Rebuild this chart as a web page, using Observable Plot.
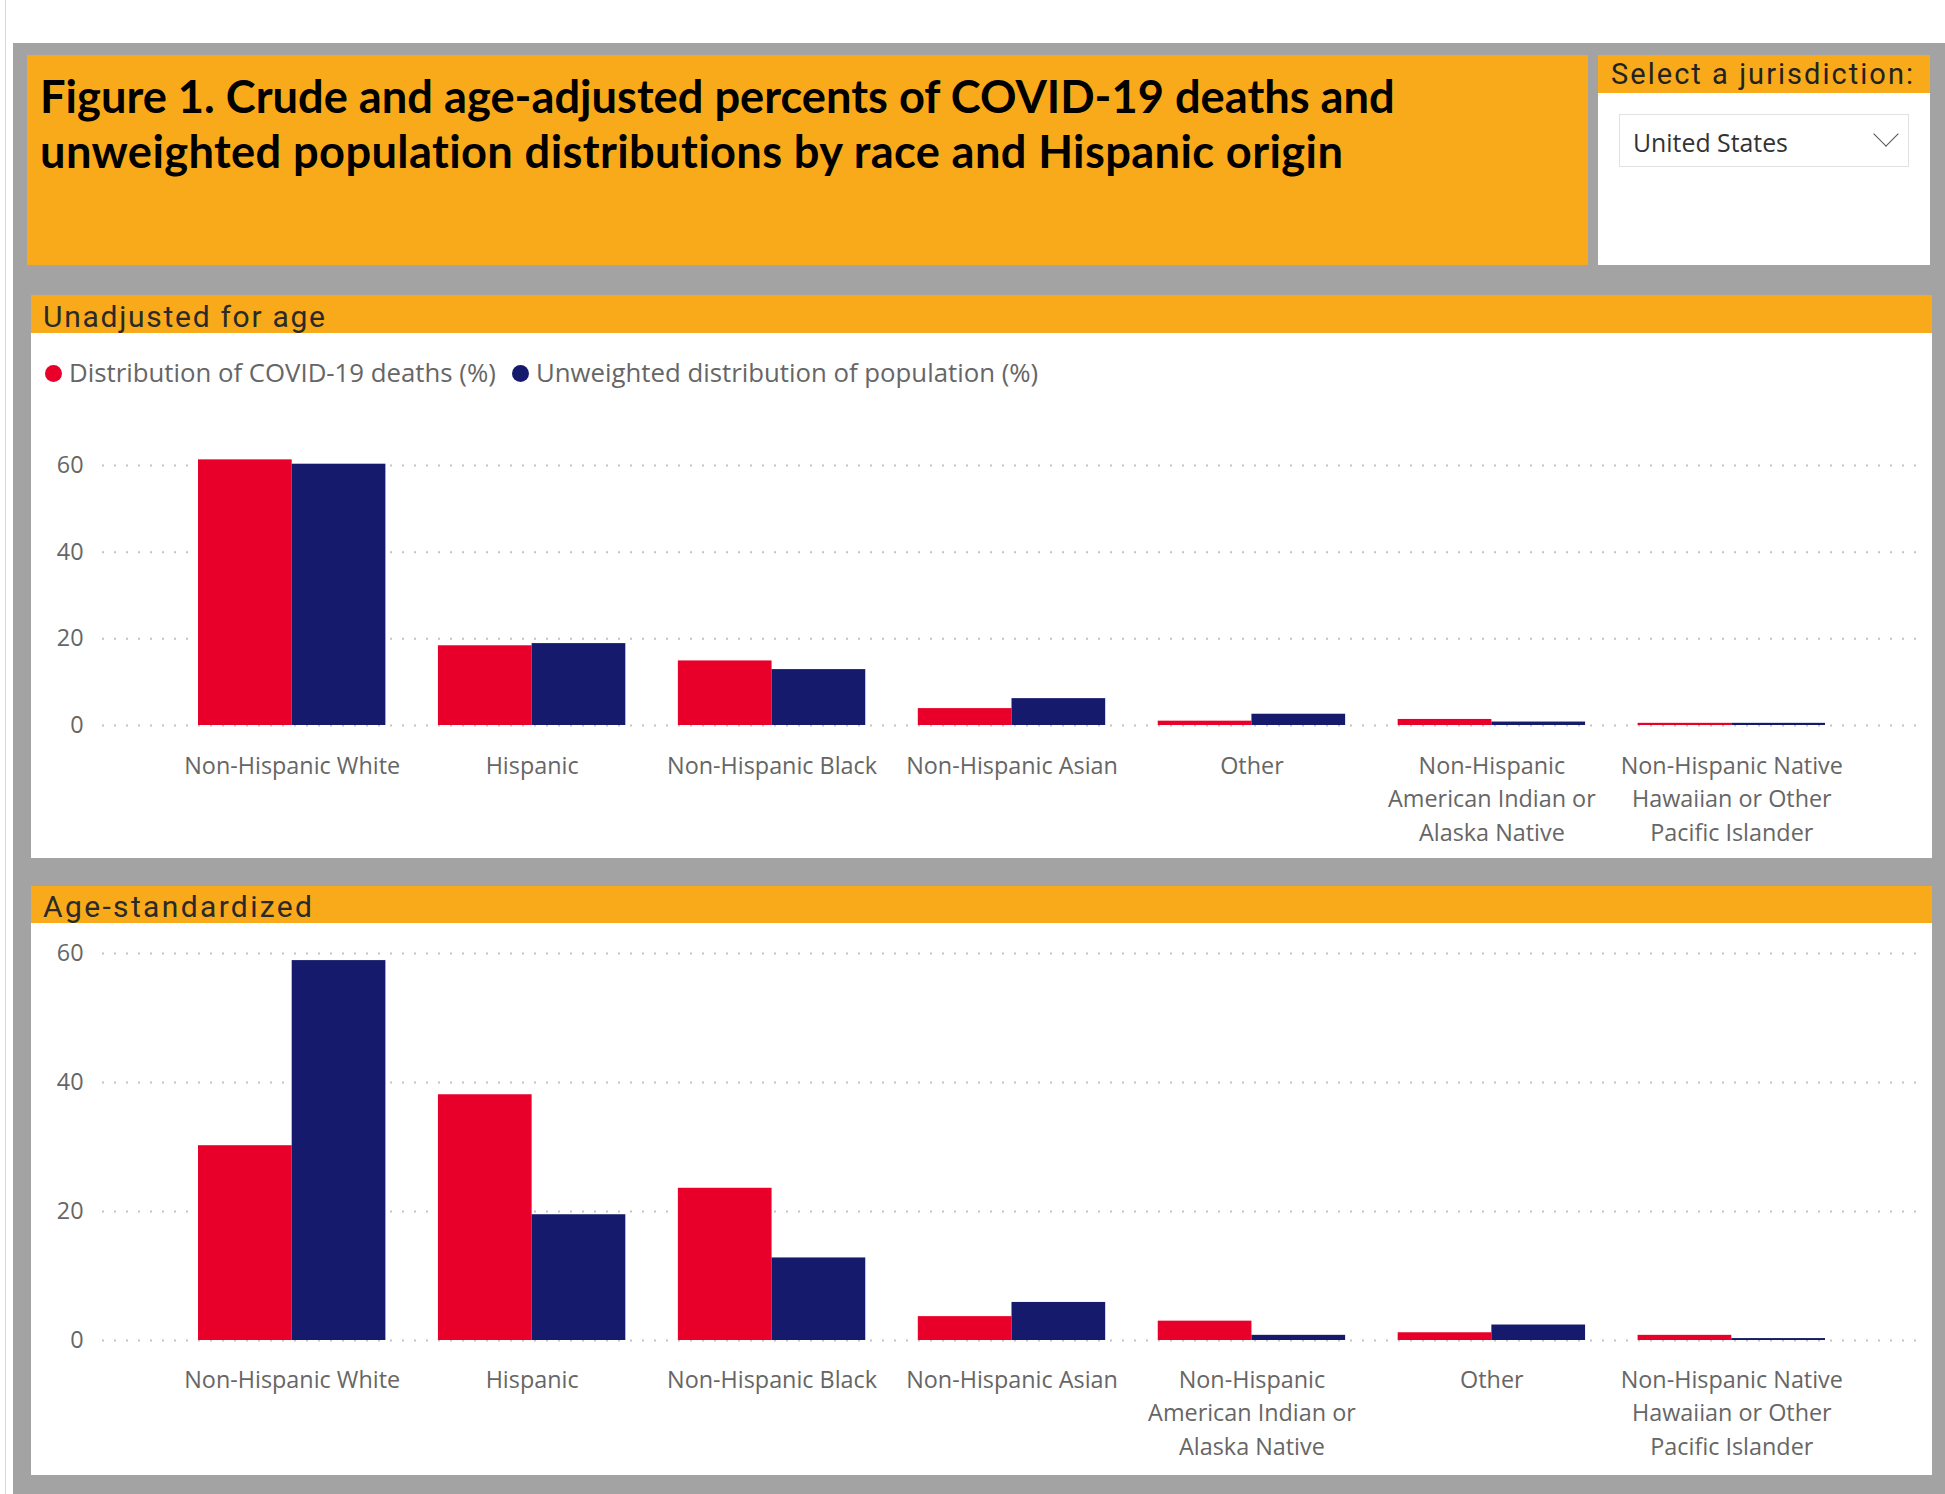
<!DOCTYPE html>
<html>
<head>
<meta charset="utf-8">
<script src="https://cdn.jsdelivr.net/npm/d3@7"></script>
<script src="https://cdn.jsdelivr.net/npm/@observablehq/plot@0.6"></script>
<style>
html, body { margin:0; padding:0; background:#fff; width:1945px; height:1494px; overflow:hidden; }
.abs { position:absolute; }
.txt { position:absolute; white-space:nowrap; margin:0; }
.dot { position:absolute; width:17px; height:17px; border-radius:50%; }
</style>
</head>
<body>
<div class="abs" style="left:5px;top:0;width:1px;height:1494px;background:#d6d6d6"></div>
<div class="abs" style="left:13px;top:43px;width:1932px;height:1451px;background:#a3a3a3"></div>
<div class="abs" style="left:27px;top:55px;width:1561px;height:210px;background:#f9aa1a"></div>
<div class="abs" style="left:1598px;top:55px;width:332px;height:210px;background:#fff"></div>
<div class="abs" style="left:1598px;top:55px;width:332px;height:38px;background:#f9aa1a"></div>
<div class="abs" style="left:1619px;top:114px;width:288px;height:51px;border:1px solid #e2e2e2;background:#fff"></div>
<div class="abs" style="left:1877px;top:125px;width:17px;height:17px;border-right:1.5px solid #555;border-bottom:1.5px solid #555;transform:rotate(45deg)"></div>

<div class="abs" style="left:31px;top:295px;width:1901px;height:38px;background:#f9aa1a"></div>
<div class="abs" style="left:31px;top:333px;width:1901px;height:525px;background:#fff"></div>
<div class="abs" style="left:31px;top:886px;width:1901px;height:37px;background:#f9aa1a"></div>
<div class="abs" style="left:31px;top:923px;width:1901px;height:552px;background:#fff"></div>

<div id="chart1" class="abs" style="left:31px;top:333px"></div>
<div id="chart2" class="abs" style="left:31px;top:923px"></div>

<script>
// ---------- Data ----------
const categoriesUnadjusted = [
  "Non-Hispanic White", "Hispanic", "Non-Hispanic Black", "Non-Hispanic Asian", "Other",
  "Non-Hispanic American Indian or Alaska Native",
  "Non-Hispanic Native Hawaiian or Other Pacific Islander"
];
const deathsUnadjusted     = [61.3, 18.4, 14.9, 3.9, 1.0, 1.4, 0.5];
const populationUnadjusted = [60.3, 18.9, 12.9, 6.2, 2.6, 0.8, 0.5];

const categoriesAgeStandardized = [
  "Non-Hispanic White", "Hispanic", "Non-Hispanic Black", "Non-Hispanic Asian",
  "Non-Hispanic American Indian or Alaska Native", "Other",
  "Non-Hispanic Native Hawaiian or Other Pacific Islander"
];
const deathsAgeStandardized     = [30.2, 38.1, 23.6, 3.7, 3.0, 1.2, 0.8];
const populationAgeStandardized = [58.9, 19.5, 12.8, 5.9, 0.8, 2.4, 0.3];

const yTicks = [0, 20, 40, 60];
const tickLabelCategories = [
  "Non-Hispanic White", "Hispanic", "Non-Hispanic Black", "Non-Hispanic Asian", "Other",
  "Non-Hispanic American Indian or Alaska Native",
  "Non-Hispanic Native Hawaiian or Other Pacific Islander"
];
const tickLabelTexts = [
  "Non-Hispanic White", "Hispanic", "Non-Hispanic Black", "Non-Hispanic Asian", "Other",
  "Non-Hispanic\nAmerican Indian or\nAlaska Native",
  "Non-Hispanic Native\nHawaiian or Other\nPacific Islander"
];
const seriesNames = ["Distribution of COVID-19 deaths (%)", "Unweighted distribution of population (%)"];

const titleLines = [
  "Figure 1. Crude and age-adjusted percents of COVID-19 deaths and",
  "unweighted population distributions by race and Hispanic origin"
];
const panelTitles = ["Unadjusted for age", "Age-standardized"];
const selectorTitle = "Select a jurisdiction:";
const selectorValue = "United States";

// ---------- Styles ----------
const RED = "#E8002A", NAVY = "#161A6C";
const BODY = '"Open Sans", sans-serif';
const HEAD = 'Roboto, sans-serif';
const TITLE = 'Lato, sans-serif';

// ---------- Text helpers ----------
const ctx = document.createElement("canvas").getContext("2d");
function measure(text, weight, size, family) {
  ctx.font = `${weight} ${size}px ${family}`;
  return ctx.measureText(text);
}
function fitSize(text, weight, family, width) {
  return 100 * width / measure(text, weight, 100, family).width;
}
function addText({text, family, weight = 400, x, baseline, width, size, color = "#000"}) {
  const m = measure(text, weight, 100, family);
  let fs = size, ls = 0;
  if (size == null) fs = 100 * width / m.width;
  else if (width != null) ls = (width - m.width * size / 100) / (text.length - 1);
  const asc = m.fontBoundingBoxAscent * fs / 100, desc = m.fontBoundingBoxDescent * fs / 100;
  const el = document.createElement("div");
  el.className = "txt";
  el.textContent = text;
  el.style.left = x + "px";
  el.style.top = (baseline - asc) + "px";
  el.style.font = `${weight} ${fs}px ${family}`;
  el.style.lineHeight = (asc + desc) + "px";
  el.style.letterSpacing = ls + "px";
  el.style.color = color;
  document.body.appendChild(el);
  return fs;
}

// Title
const titleSize = fitSize(titleLines[0], 700, TITLE, 1356);
addText({text: titleLines[0], family: TITLE, weight: 700, x: 40, baseline: 113.5, size: titleSize});
addText({text: titleLines[1], family: TITLE, weight: 700, x: 40, baseline: 168.5, size: titleSize, width: 1306});

// Selector
addText({text: selectorTitle, family: HEAD, x: 1611, baseline: 85, size: 29, width: 302, color: "#222"});
addText({text: selectorValue, family: BODY, x: 1633, baseline: 153, width: 155, color: "#333"});

// Panel headers
addText({text: panelTitles[0], family: HEAD, x: 43, baseline: 327, size: 30, width: 282, color: "#2a2a2a"});
addText({text: panelTitles[1], family: HEAD, x: 43, baseline: 917, size: 30, width: 269, color: "#2a2a2a"});

// Legend
const legendSize = fitSize(seriesNames[0], 400, BODY, 427);
[[RED, 45, 69], [NAVY, 512, 536]].forEach(([c, dx, tx], i) => {
  const d = document.createElement("div");
  d.className = "dot";
  d.style.left = dx + "px"; d.style.top = "365px"; d.style.background = c;
  document.body.appendChild(d);
  addText({text: seriesNames[i], family: BODY, x: tx, baseline: 383, size: legendSize, color: "#666"});
});

// ---------- Charts ----------
const axisSize = fitSize("Non-Hispanic White", 400, BODY, 216);
const wrapped = new Map(tickLabelCategories.map((c, i) => [c, tickLabelTexts[i]]));

function drawChart(cats, deaths, pop, o) {
  const rows = cats.map((c, i) => ({category: c, deaths: deaths[i], population: pop[i]}));
  const xRange = [167, 1794], pad = 0.219;
  const half = d3.scaleBand().domain(cats).range(xRange).paddingInner(pad).paddingOuter(0).bandwidth() / 2;
  return Plot.plot({
    width: 1901, height: o.height,
    marginLeft: 71, marginRight: 7, marginTop: 0, marginBottom: o.height - o.y0,
    style: {background: "transparent", fontFamily: BODY, fontSize: axisSize + "px", color: "#666", overflow: "visible"},
    x: {type: "band", domain: cats, range: xRange, paddingInner: pad, paddingOuter: 0, round: false, label: null},
    y: {domain: [0, 60], range: [o.y0, o.y60], label: null},
    marks: [
      Plot.ruleY(yTicks, {stroke: "#c4c4c4", strokeWidth: 2, strokeDasharray: "2,10"}),
      Plot.barY(rows, {x: "category", y: "deaths", fill: RED, insetRight: half}),
      Plot.barY(rows, {x: "category", y: "population", fill: NAVY, insetLeft: half}),
      Plot.axisY({ticks: yTicks, tickSize: 0, tickPadding: 19, label: null}),
      Plot.axisX({tickSize: 0, tickPadding: o.tp, tickFormat: d => wrapped.get(d), lineHeight: 1.45, label: null})
    ]
  });
}

document.getElementById("chart1").appendChild(
  drawChart(categoriesUnadjusted, deathsUnadjusted, populationUnadjusted, {height: 525, y0: 392, y60: 132, tp: 24})
);
document.getElementById("chart2").appendChild(
  drawChart(categoriesAgeStandardized, deathsAgeStandardized, populationAgeStandardized, {height: 552, y0: 417, y60: 30, tp: 23})
);
</script>
</body>
</html>
